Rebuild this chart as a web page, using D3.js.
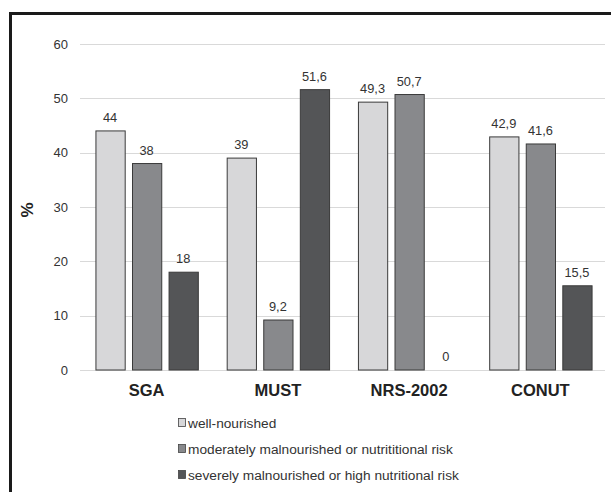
<!DOCTYPE html>
<html>
<head>
<meta charset="utf-8">
<script src="https://cdn.jsdelivr.net/npm/d3@7"></script>
<style>
  html, body { margin: 0; padding: 0; background: #fff; }
  svg { display: block; font-family: "Liberation Sans", Arial, sans-serif; }
</style>
</head>
<body>
<svg id="chart" width="611" height="492"></svg>
<script>
// ---- data ----
const tools = ["SGA", "MUST", "NRS-2002", "CONUT"];
const seriesNames = [
  "well-nourished",
  "moderately malnourished or nutrititional risk",
  "severely malnourished or high nutritional risk"
];
const wellNourished = [44, 39, 49.3, 42.9];
const moderate = [38, 9.2, 50.7, 41.6];
const severe = [18, 51.6, 0, 15.5];
const yTicks = [0, 10, 20, 30, 40, 50, 60];

const seriesValues = [wellNourished, moderate, severe];
const fills = ["#d7d7d9", "#88898c", "#545557"];

const svg = d3.select("#chart");

// frame around the figure (runs off the right and bottom edges)
svg.append("path")
  .attr("d", "M10.5,700 L10.5,13.5 L700,13.5")
  .attr("fill", "none").attr("stroke", "#1a1a1a").attr("stroke-width", 3);

const y = d3.scaleLinear().domain([0, 60]).range([370, 44]);
const x0 = d3.scaleBand().domain(tools).range([81, 606])
  .paddingInner(0.22).paddingOuter(0.11);
const x1 = d3.scaleBand().domain(d3.range(3)).range([0, x0.bandwidth()])
  .paddingInner(0.2);

// gridlines + y tick labels
const yAxis = svg.append("g");
yAxis.selectAll("line").data(yTicks).join("line")
  .attr("x1", 80).attr("x2", 605)
  .attr("y1", d => Math.round(y(d)) + 0.5).attr("y2", d => Math.round(y(d)) + 0.5)
  .attr("stroke", "#d9d9d9").attr("stroke-width", 1.2);
yAxis.selectAll("text").data(yTicks).join("text")
  .attr("x", 68).attr("y", d => y(d) + 4.5)
  .attr("text-anchor", "end").attr("font-size", 13).attr("fill", "#333")
  .text(d => d);

svg.append("text")
  .attr("transform", "translate(33,210) rotate(-90)")
  .attr("text-anchor", "middle").attr("font-size", 17).attr("font-weight", 700)
  .attr("fill", "#222").text("%");

// bars
const groups = svg.append("g").selectAll("g").data(tools).join("g")
  .attr("transform", d => `translate(${x0(d)},0)`);

groups.each(function (tool, ti) {
  const g = d3.select(this);
  seriesValues.forEach((vals, si) => {
    const v = vals[ti];
    if (v > 0) {
      g.append("rect")
        .attr("x", x1(si) + 0.5).attr("y", y(v))
        .attr("width", x1.bandwidth()).attr("height", y(0) - y(v))
        .attr("fill", fills[si]).attr("stroke", "#3a3a3a").attr("stroke-width", 1);
    }
    g.append("text")
      .attr("x", x1(si) + x1.bandwidth() / 2).attr("y", y(v) - 9)
      .attr("text-anchor", "middle").attr("font-size", 12.8).attr("fill", "#333")
      .text(String(v).replace(".", ","));
  });
});

// category labels
svg.append("g").selectAll("text").data(tools).join("text")
  .attr("x", d => x0(d) + x0.bandwidth() / 2).attr("y", 396)
  .attr("text-anchor", "middle").attr("font-size", 16.5).attr("font-weight", 700)
  .attr("fill", "#222").text(d => d);

// legend
const legend = svg.append("g").selectAll("g").data(seriesNames).join("g")
  .attr("transform", (d, i) => `translate(178,${418 + i * 26})`);
legend.append("rect")
  .attr("x", 0.5).attr("y", 0.5).attr("width", 7).attr("height", 8)
  .attr("fill", (d, i) => fills[i]).attr("stroke", "#444").attr("stroke-width", 0.8);
legend.append("text")
  .attr("x", 10).attr("y", 9.5).attr("font-size", 13.7).attr("fill", "#333")
  .text(d => d);
</script>
</body>
</html>
